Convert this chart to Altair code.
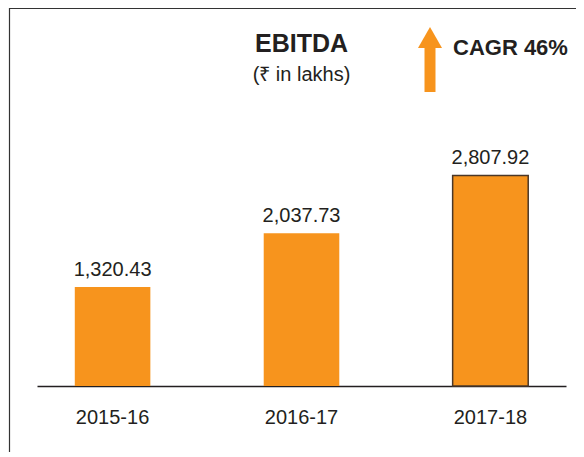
import altair as alt
import pandas as pd

# ---- data ----
years = ["2015-16", "2016-17", "2017-18"]
ebitda = [1320.43, 2037.73, 2807.92]
TITLE = "EBITDA"
SUBTITLE = "(₹ in lakhs)"
CAGR_LABEL = "CAGR 46%"
HIGHLIGHT_YEAR = "2017-18"

ORANGE = "#F7941D"
INK = "#231F20"
FONT = "Liberation Sans"

W, H = 529, 285
df = pd.DataFrame({"year": years, "value": ebitda})

x_enc = alt.X("year:N", sort=years, title=None,
              scale=alt.Scale(paddingInner=0.6, paddingOuter=0.2),
              axis=alt.Axis(labelAngle=0, labelFont=FONT, labelFontSize=20,
                            labelColor=INK, labelPadding=21, ticks=False,
                            tickSize=0, domainColor=INK, domainWidth=1.5,
                            grid=False))
y_enc = alt.Y("value:Q", scale=alt.Scale(domain=[0, 3800]), axis=None)

base = alt.Chart(df)

bars = base.mark_bar(color=ORANGE, stroke="#4a3728", strokeWidth=1.5).encode(
    x=x_enc, y=y_enc,
    strokeOpacity=alt.when(alt.datum.year == HIGHLIGHT_YEAR)
    .then(alt.value(1)).otherwise(alt.value(0)),
)

labels = base.mark_text(font=FONT, fontSize=20, color=INK,
                        baseline="alphabetic", dy=-11).encode(
    x=alt.X("year:N", sort=years), y=y_enc,
    text=alt.Text("value:Q", format=",.2f"),
)

def txt(s, x, y, size, bold, align="center"):
    return alt.Chart(pd.DataFrame({"t": [s]})).mark_text(
        font=FONT, fontSize=size, fontWeight="bold" if bold else "normal",
        color=INK, align=align, baseline="alphabetic").encode(
        text="t:N", x=alt.value(x), y=alt.value(y))

one = pd.DataFrame({"k": [0]})
title = txt(TITLE, W / 2, -49, 25, True)
subtitle = txt(SUBTITLE, W / 2, -20, 20, False)
cagr = txt(CAGR_LABEL, 416, -46, 22, True, "left")

shaft = alt.Chart(one).mark_rule(color=ORANGE, strokeWidth=11, strokeCap="butt").encode(
    x=alt.value(393), y=alt.value(-55), y2=alt.value(-9))
head = alt.Chart(one).mark_point(shape="triangle-up", filled=True, color=ORANGE,
                                 size=576, opacity=1).encode(
    x=alt.value(393), y=alt.value(-63.5))

frame_left = alt.Chart(one).mark_rule(color="#333333", strokeWidth=1.2).encode(
    x=alt.value(-27.5), y=alt.value(-93), y2=alt.value(H + 80))
frame_top = alt.Chart(one).mark_rule(color="#333333", strokeWidth=1.2).encode(
    x=alt.value(-28), x2=alt.value(W + 30), y=alt.value(-92.5))

chart = alt.layer(bars, labels, title, subtitle, cagr, shaft, head,
                  frame_left, frame_top).properties(
    width=W, height=H,
    autosize=alt.AutoSizeParams(type="none"),
    padding={"left": 29, "top": 93, "right": 10, "bottom": 66},
).configure_view(stroke=None)

chart.save("out.html", embed_options={"renderer": "svg", "actions": False})
